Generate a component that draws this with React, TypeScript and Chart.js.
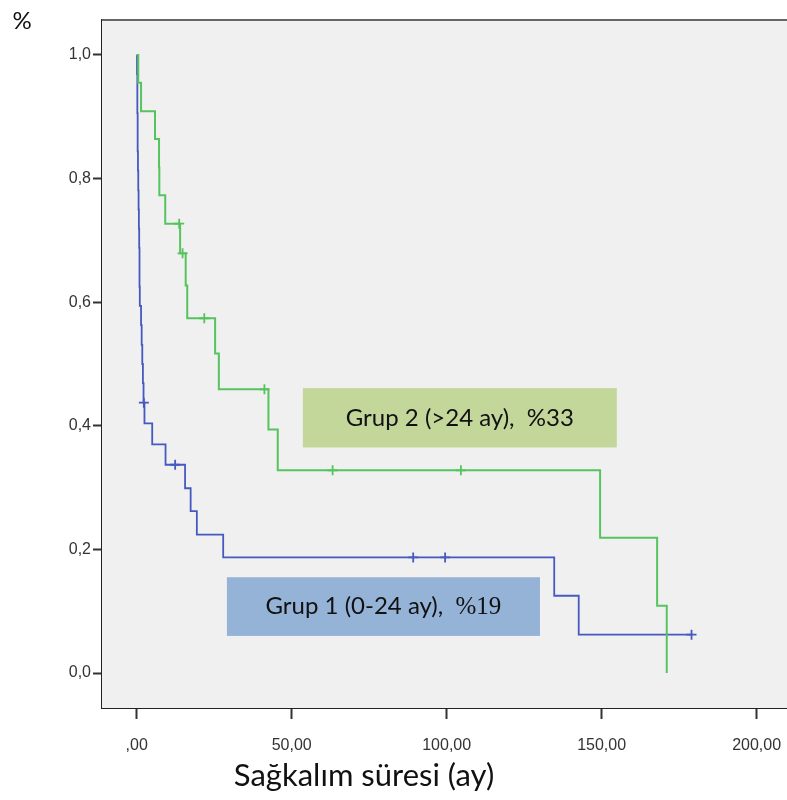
import { useEffect, useRef } from 'react';
import { Chart, registerables } from 'chart.js';

Chart.register(...registerables);

// Kaplan-Meier step points (time in months, survival proportion)
const group1Times = [0, 0.1, 0.2, 0.2, 0.3, 0.3, 0.4, 0.5, 0.6, 0.7, 0.8, 0.9, 0.9, 1.0, 1.4, 1.6, 1.8, 2.0, 2.2, 2.5, 5.0, 9.3, 15.6, 17.4, 19.4, 27.9, 134.7, 142.6, 179];
const group1Surv = [1.0, 0.969, 0.938, 0.906, 0.875, 0.844, 0.813, 0.781, 0.75, 0.719, 0.688, 0.656, 0.625, 0.594, 0.563, 0.531, 0.5, 0.469, 0.4375, 0.404, 0.370, 0.337, 0.299, 0.262, 0.224, 0.187, 0.125, 0.062, 0.062];
const group1CensorTimes = [2.3, 12.4, 89.2, 99.5, 179];
const group1CensorSurv = [0.4375, 0.337, 0.187, 0.187, 0.062];

const group2Times = [0, 0.5, 1.4, 5.9, 7.2, 7.3, 9.2, 14.0, 15.8, 16.3, 25.3, 26.5, 42.5, 45.5, 149.5, 167.9, 171.0];
const group2Surv = [1.0, 0.955, 0.909, 0.864, 0.818, 0.773, 0.727, 0.679, 0.627, 0.574, 0.517, 0.459, 0.394, 0.328, 0.219, 0.109, 0.0];
const group2CensorTimes = [13.7, 14.8, 21.8, 41.2, 63.2, 104.6];
const group2CensorSurv = [0.727, 0.679, 0.574, 0.459, 0.328, 0.328];

const xTickValues = [0, 50, 100, 150, 200];
const yTickValues = [0, 0.2, 0.4, 0.6, 0.8, 1.0];

const yAxisTitle = '%';
const xAxisTitle = 'Sağkalım süresi (ay)';
const group2Label = 'Grup 2 (>24 ay),  %33';
const group1LabelMain = 'Grup 1 (0-24 ay),  ';
const group1LabelPct = '%19';

// styling / placement (not data)
const BLUE = '#4659c0';
const GREEN = '#55c45e';
const PLOT_BG = '#f0f0f0';
const BOX2 = { x0: 53.6, x1: 154.9, y0: 0.461, y1: 0.365, fill: '#c4d79b' };
const BOX1 = { x0: 29.1, x1: 130.1, y0: 0.155, y1: 0.060, fill: '#95b3d7' };

const toPts = (xs: number[], ys: number[]) => xs.map((x, i) => ({ x, y: ys[i] }));

export default function App() {
  const ref = useRef<HTMLCanvasElement | null>(null);

  useEffect(() => {
    const canvas = ref.current;
    if (!canvas) return;

    const decor = {
      id: 'decor',
      beforeDatasetsDraw(chart: any) {
        const { ctx, chartArea } = chart;
        ctx.save();
        ctx.fillStyle = PLOT_BG;
        ctx.fillRect(chartArea.left, chartArea.top, chartArea.right - chartArea.left, chartArea.bottom - chartArea.top);
        ctx.strokeStyle = '#666';
        ctx.lineWidth = 2;
        ctx.beginPath();
        ctx.moveTo(chartArea.left, chartArea.top);
        ctx.lineTo(chartArea.right, chartArea.top);
        ctx.stroke();
        ctx.restore();
      },
      afterDraw(chart: any) {
        const { ctx } = chart;
        const xs = chart.scales.x;
        const ys = chart.scales.y;
        ctx.save();
        const drawBox = (b: any) => {
          const l = xs.getPixelForValue(b.x0);
          const r = xs.getPixelForValue(b.x1);
          const t = ys.getPixelForValue(b.y0);
          const bt = ys.getPixelForValue(b.y1);
          ctx.fillStyle = b.fill;
          ctx.fillRect(l, t, r - l, bt - t);
          return { cx: (l + r) / 2, cy: (t + bt) / 2 };
        };
        const c2 = drawBox(BOX2);
        ctx.fillStyle = '#111';
        ctx.textBaseline = 'middle';
        ctx.textAlign = 'center';
        ctx.font = '24px Lato';
        ctx.fillText(group2Label, c2.cx, c2.cy);

        const c1 = drawBox(BOX1);
        ctx.fillStyle = '#111';
        ctx.textAlign = 'left';
        ctx.font = '24px Lato';
        const w1 = ctx.measureText(group1LabelMain).width;
        ctx.font = '25px "Liberation Serif"';
        const w2 = ctx.measureText(group1LabelPct).width;
        const start = c1.cx - (w1 + w2) / 2;
        ctx.font = '24px Lato';
        ctx.fillText(group1LabelMain, start, c1.cy);
        ctx.font = '25px "Liberation Serif"';
        ctx.fillText(group1LabelPct, start + w1, c1.cy + 1);

        ctx.textAlign = 'center';
        ctx.font = '24px Lato';
        ctx.fillText(yAxisTitle, 22, 21);
        ctx.font = '31px Lato';
        ctx.fillText(xAxisTitle, 364, 776);
        ctx.restore();
      },
    };

    const tickFont = { family: '"Liberation Sans", Arial', size: 16 };

    const chart = new Chart(canvas, {
      type: 'scatter',
      data: {
        datasets: [
          {
            label: 'Grup 2',
            data: toPts(group2Times, group2Surv),
            showLine: true,
            stepped: true,
            borderColor: GREEN,
            borderWidth: 2,
            pointRadius: 0,
            fill: false,
          },
          {
            label: 'Grup 1',
            data: toPts(group1Times, group1Surv),
            showLine: true,
            stepped: true,
            borderColor: BLUE,
            borderWidth: 1.8,
            pointRadius: 0,
            fill: false,
          },
          {
            label: 'Grup 2 sansür',
            data: toPts(group2CensorTimes, group2CensorSurv),
            showLine: false,
            pointStyle: 'cross',
            pointRadius: 5,
            borderColor: GREEN,
            borderWidth: 1.8,
          },
          {
            label: 'Grup 1 sansür',
            data: toPts(group1CensorTimes, group1CensorSurv),
            showLine: false,
            pointStyle: 'cross',
            pointRadius: 5,
            borderColor: BLUE,
            borderWidth: 1.8,
          },
        ],
      } as any,
      options: {
        animation: false,
        responsive: false,
        layout: { autoPadding: false, padding: { top: 20, left: 0, right: 0, bottom: 0 } },
        plugins: { legend: { display: false }, tooltip: { enabled: false } },
        scales: {
          x: {
            type: 'linear',
            min: -11.2,
            max: 209.8,
            afterBuildTicks: (s: any) => {
              s.ticks = xTickValues.map((v) => ({ value: v }));
            },
            afterFit: (s: any) => {
              s.height = 92;
              s.paddingLeft = 0;
              s.paddingRight = 0;
            },
            ticks: {
              color: '#333',
              font: tickFont,
              padding: 17,
              maxRotation: 0,
              callback: (v: any) => (Number(v) === 0 ? ',00' : Number(v).toFixed(2).replace('.', ',')),
            },
            grid: { drawOnChartArea: false, tickLength: 11, tickWidth: 2, color: '#333' },
            border: { color: '#222', width: 2 },
          },
          y: {
            type: 'linear',
            min: -0.0566,
            max: 1.0566,
            afterBuildTicks: (s: any) => {
              s.ticks = yTickValues.map((v) => ({ value: v }));
            },
            afterFit: (s: any) => {
              s.width = 102;
              s.paddingTop = 0;
              s.paddingBottom = 0;
            },
            ticks: {
              color: '#333',
              font: tickFont,
              padding: 2,
              callback: (v: any) => Number(v).toFixed(1).replace('.', ','),
            },
            grid: { drawOnChartArea: false, tickLength: 9, tickWidth: 2, color: '#333' },
            border: { color: '#222', width: 2 },
          },
        },
      } as any,
      plugins: [decor],
    });

    return () => chart.destroy();
  }, []);

  return (
    <div style={{ position: 'absolute', left: 0, top: 0, width: 787, height: 800, background: '#fff' }}>
      <canvas ref={ref} width={787} height={800} style={{ display: 'block' }} />
    </div>
  );
}
